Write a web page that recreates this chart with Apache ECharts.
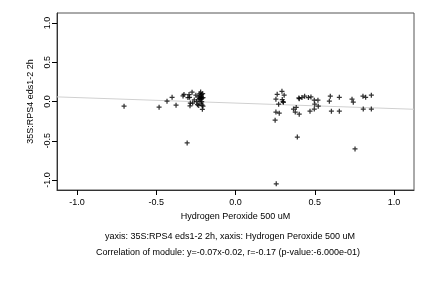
<!DOCTYPE html>
<html>
<head>
<meta charset="utf-8">
<script src="https://cdn.jsdelivr.net/npm/echarts@6/dist/echarts.min.js"></script>
<style>
  html, body { margin: 0; padding: 0; background: #fff; }
  #chart { width: 432px; height: 288px; }
</style>
</head>
<body>
<div id="chart"></div>
<script>
// x: Hydrogen Peroxide 500 uM, y: 35S:RPS4 eds1-2 2h
const xValues = [
  -0.703, -0.482, -0.432, -0.400, -0.375, -0.331, -0.325, -0.305,
  -0.300, -0.293, -0.290, -0.287, -0.285, -0.274, -0.270, -0.260,
  -0.250, -0.245, -0.240, -0.235, -0.232, -0.230, -0.228, -0.225,
  -0.223, -0.220, -0.220, -0.218, -0.217, -0.215, -0.214, -0.213,
  -0.212, -0.210, -0.209, -0.207, -0.205, -0.205,
  0.263, 0.293, 0.307, 0.255, 0.295, 0.300, 0.302, 0.272,
  0.255, 0.276, 0.250, 0.257, 0.366, 0.383, 0.377, 0.402,
  0.390, 0.400, 0.402, 0.419, 0.436, 0.460, 0.476, 0.497,
  0.520, 0.500, 0.522, 0.497, 0.470, 0.592, 0.598, 0.605,
  0.655, 0.655, 0.735, 0.743, 0.754, 0.804, 0.821, 0.857,
  0.806, 0.857
];
const yValues = [
  -0.060, -0.072, 0.004, 0.054, -0.047, 0.070, 0.090, -0.528,
  0.050, 0.088, 0.054, -0.055, -0.020, 0.118, -0.020, 0.020,
  0.080, 0.000, -0.040, 0.060, -0.050, 0.020, 0.040, 0.100,
  0.070, 0.120, 0.030, 0.050, -0.020, 0.060, 0.090, 0.000,
  0.040, -0.045, -0.100, 0.100, 0.050, -0.060,
  0.092, 0.130, 0.080, 0.029, 0.025, 0.000, -0.010, -0.034,
  -0.135, -0.148, -0.237, -1.047, -0.097, -0.076, -0.135, -0.161,
  -0.452, 0.045, 0.035, 0.050, 0.067, 0.050, 0.058, 0.016,
  0.016, -0.034, -0.060, -0.097, -0.123, 0.004, 0.067, -0.123,
  0.054, -0.123, 0.029, -0.009, -0.604, 0.067, 0.054, 0.080,
  -0.097, -0.097
];
const tickValues = [-1, -0.5, 0, 0.5, 1];
// fitted line: y = slope * x + intercept
const slope = -0.07;
const intercept = -0.02;
const axisMin = -1.126;
const axisMax = 1.126;

const points = xValues.map((x, i) => [x, yValues[i]]);
const fitLine = [axisMin, axisMax].map(x => [x, slope * x + intercept]);

const plus = 'path://M3.75,0H6.25V3.75H10V6.25H6.25V10H3.75V6.25H0V3.75H3.75Z';
const font = 'Liberation Sans, Arial, sans-serif';

const chart = echarts.init(document.getElementById('chart'), null, { renderer: 'canvas' });
chart.setOption({
  animation: false,
  textStyle: { fontFamily: font },
  grid: {
    left: 57, right: 18, top: 13, bottom: 98,
    show: true, borderColor: '#555', borderWidth: 1
  },
  xAxis: {
    type: 'value',
    min: axisMin, max: axisMax,
    name: 'Hydrogen Peroxide 500 uM',
    nameLocation: 'middle',
    nameGap: 21,
    nameTextStyle: { fontSize: 9, color: '#000', fontFamily: font },
    splitLine: { show: false },
    axisLine: { show: true, onZero: false, lineStyle: { color: '#333', width: 1 } },
    axisTick: { show: true, customValues: tickValues, length: 5, lineStyle: { color: '#000' } },
    axisLabel: {
      customValues: tickValues, fontSize: 9, color: '#000', margin: 8,
      formatter: v => v.toFixed(1)
    }
  },
  yAxis: {
    type: 'value',
    min: axisMin, max: axisMax,
    name: '35S:RPS4 eds1-2 2h',
    nameLocation: 'middle',
    nameRotate: 90,
    nameGap: 20,
    nameTextStyle: { fontSize: 9, color: '#000', fontFamily: font },
    splitLine: { show: false },
    axisLine: { show: true, onZero: false, lineStyle: { color: '#333', width: 1 } },
    axisTick: { show: true, customValues: tickValues, length: 5, lineStyle: { color: '#000' } },
    axisLabel: {
      customValues: tickValues, fontSize: 9, color: '#000', margin: 5, rotate: 90,
      formatter: v => v.toFixed(1)
    }
  },
  title: [
    {
      text: 'yaxis: 35S:RPS4 eds1-2 2h, xaxis: Hydrogen Peroxide 500 uM',
      left: 225, top: 227, textAlign: 'center',
      textStyle: { fontSize: 9, fontWeight: 'normal', color: '#000', fontFamily: font }
    },
    {
      text: 'Correlation of module: y=-0.07x-0.02, r=-0.17 (p-value:-6.000e-01)',
      left: 223, top: 243, textAlign: 'center',
      textStyle: { fontSize: 9, fontWeight: 'normal', color: '#000', fontFamily: font }
    }
  ],
  series: [
    {
      type: 'line',
      data: fitLine,
      symbol: 'none',
      lineStyle: { color: '#d0d0d0', width: 1 },
      z: 1
    },
    {
      type: 'scatter',
      data: points,
      symbol: plus,
      symbolSize: 5,
      itemStyle: { color: '#000' },
      z: 2
    }
  ]
});
</script>
</body>
</html>
